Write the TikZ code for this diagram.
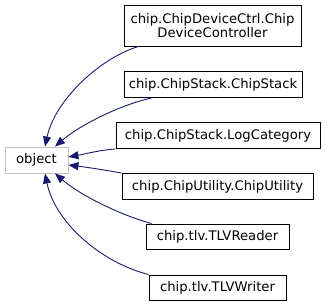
\documentclass[tikz,border=0pt]{standalone}
\usepackage{fontspec}
\setmainfont{DejaVu Sans}
\usetikzlibrary{arrows.meta}
\definecolor{edgeblue}{HTML}{191970}
\definecolor{basegray}{HTML}{BFBFBF}
\tikzset{
  classbox/.style={draw=black, line width=0.9pt, fill=white, inner sep=0pt,
    align=center, minimum height=26pt, font=\fontsize{13.2}{14.5}\selectfont},
  basebox/.style={classbox, draw=basegray},
  inherit/.style={draw=edgeblue, line width=0.9pt,
    -{Triangle[length=10pt,width=8pt]}},
}
\begin{document}
\begin{tikzpicture}[x=1pt,y=-1pt]
\useasboundingbox (0,0) rectangle (325,306);

% base class
\node[basebox, minimum width=63pt] (obj) at (36.5,160) {object};

% derived classes
\node[classbox, minimum width=177pt, minimum height=41pt] (dev) at (212.5,25.5)
  {chip.ChipDeviceCtrl.Chip\\DeviceController};
\node[classbox, minimum width=178pt] (stack) at (213,84.5) {chip.ChipStack.ChipStack};
\node[classbox, minimum width=204pt] (logcat) at (218,135.5) {chip.ChipStack.LogCategory};
\node[classbox, minimum width=191pt] (util) at (217.5,186.5) {chip.ChipUtility.ChipUtility};
\node[classbox, minimum width=143pt, minimum height=25pt] (reader) at (217.5,236.5) {chip.tlv.TLVReader};
\node[classbox, minimum width=137pt, minimum height=25pt] (writer) at (217.5,287.5) {chip.tlv.TLVWriter};

% inheritance edges
\draw[inherit] ([xshift=15pt]dev.south west) .. controls (100,58) and (55,100) .. ([xshift=8.5pt]obj.north);
\draw[inherit] ([xshift=28pt]stack.south west) .. controls (120,105) and (80,125) .. ([xshift=18.5pt]obj.north);
\draw[inherit] (logcat.south west) .. controls (100,150) and (85,154) .. ([yshift=3pt]obj.east);
\draw[inherit] (util.north west) .. controls (105,170) and (85,167) .. ([yshift=-5pt]obj.east);
\draw[inherit] ([xshift=6pt]reader.north west) .. controls (120,215) and (80,195) .. ([xshift=18.5pt]obj.south);
\draw[inherit] (writer.north west) .. controls (100,262) and (55,222) .. ([xshift=8.5pt]obj.south);
\end{tikzpicture}
\end{document}
